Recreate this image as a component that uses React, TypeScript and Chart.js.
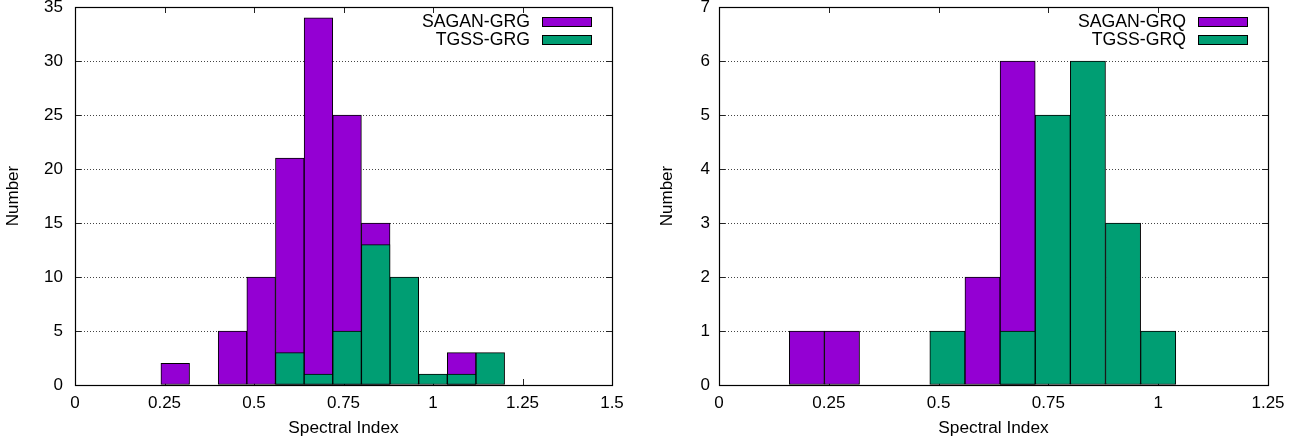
import React, { useEffect, useRef } from 'react';
import { Chart, registerables } from 'chart.js';

Chart.register(...registerables);

const PURPLE = '#9400D3';
const GREEN = '#009E73';
const FONT = '"Liberation Sans", Arial, sans-serif';

// Left panel: radio galaxies (bin centres, bin width 0.08)
const grgBins = [0.28, 0.44, 0.52, 0.6, 0.68, 0.76, 0.84, 0.92, 1.0, 1.08, 1.16];
const saganGrg = [2, 5, 10, 21, 34, 25, 15, null, null, 3, null];
const tgssGrg = [null, null, null, 3, 1, 5, 13, 10, 1, 1, 3];
const grgLabels = ['SAGAN-GRG', 'TGSS-GRG'];

// Right panel: radio quasars
const grqBins = [0.2, 0.28, 0.52, 0.6, 0.68, 0.76, 0.84, 0.92, 1.0];
const saganGrq = [1, 1, null, 2, 6, null, null, null, null];
const tgssGrq = [null, null, 1, null, 1, 5, 6, 3, 1];
const grqLabels = ['SAGAN-GRQ', 'TGSS-GRQ'];

const xTitle = 'Spectral Index';
const yTitle = 'Number';

type Props = {
  bins: number[];
  sagan: (number | null)[];
  tgss: (number | null)[];
  labels: string[];
  xMax: number;
  yMax: number;
  yStep: number;
  yWidth: number;
  padRight: number;
  tickPad: number;
  titlePad: number;
};

const toPoints = (bins: number[], vals: (number | null)[]) =>
  bins
    .map((x, i) => ({ x, y: vals[i] }))
    .filter((p) => p.y !== null && p.y !== undefined) as { x: number; y: number }[];

const framePlugin = {
  id: 'gnuframe',
  beforeDatasetsDraw(chart: any) {
    const { ctx, chartArea } = chart;
    const { left, right, top, bottom } = chartArea;
    const tl = 6;
    ctx.save();
    ctx.strokeStyle = '#222';
    ctx.lineWidth = 1;
    ctx.beginPath();
    const xs = chart.scales.x;
    xs.ticks.forEach((t: any) => {
      const px = Math.round(xs.getPixelForValue(t.value)) + 0.5;
      ctx.moveTo(px, bottom);
      ctx.lineTo(px, bottom - tl);
      ctx.moveTo(px, top);
      ctx.lineTo(px, top + tl);
    });
    const ys = chart.scales.y;
    ys.ticks.forEach((t: any) => {
      const py = Math.round(ys.getPixelForValue(t.value)) + 0.5;
      ctx.moveTo(left, py);
      ctx.lineTo(left + tl, py);
      ctx.moveTo(right, py);
      ctx.lineTo(right - tl, py);
    });
    ctx.stroke();
    ctx.restore();
  },
  afterDatasetsDraw(chart: any) {
    const { ctx, chartArea } = chart;
    const { left, right, top, bottom } = chartArea;
    ctx.save();
    ctx.strokeStyle = '#000';
    ctx.lineWidth = 1.2;
    ctx.strokeRect(Math.round(left) + 0.5, Math.round(top) + 0.5, Math.round(right - left), Math.round(bottom - top));
    // legend (gnuplot style: right-aligned text, sample box on the right)
    const labels: string[] = chart.options.plugins.gnuframe.labels;
    const colors = [PURPLE, GREEN];
    ctx.font = `17.7px ${FONT}`;
    ctx.textAlign = 'right';
    ctx.textBaseline = 'middle';
    ctx.lineWidth = 1;
    labels.forEach((lab, i) => {
      const cy = top + 14.7 + i * 18.5;
      ctx.fillStyle = '#000';
      ctx.fillText(lab, right - 82, cy);
      const bx = Math.round(right - 70) + 0.5;
      const by = Math.round(cy - 5) + 0.5;
      ctx.fillStyle = colors[i];
      ctx.fillRect(bx, by, 49, 9);
      ctx.strokeStyle = '#000';
      ctx.strokeRect(bx, by, 49, 9);
    });
    ctx.restore();
  },
};

function Hist(props: Props) {
  const ref = useRef<HTMLCanvasElement | null>(null);
  useEffect(() => {
    if (!ref.current) return;
    const chart = new Chart(ref.current, {
      type: 'bar',
      data: {
        datasets: [
          {
            label: props.labels[0],
            data: toPoints(props.bins, props.sagan),
            backgroundColor: PURPLE,
            borderColor: '#000',
            borderWidth: 1,
            borderSkipped: false,
            barPercentage: 1,
            categoryPercentage: 1,
            grouped: false,
            order: 1,
          } as any,
          {
            label: props.labels[1],
            data: toPoints(props.bins, props.tgss),
            backgroundColor: GREEN,
            borderColor: '#000',
            borderWidth: 1,
            borderSkipped: false,
            barPercentage: 1,
            categoryPercentage: 1,
            grouped: false,
            order: 0,
          } as any,
        ],
      },
      options: {
        animation: false,
        responsive: false,
        maintainAspectRatio: false,
        layout: { padding: { left: 0, top: 7, right: props.padRight, bottom: 0 } },
        plugins: {
          legend: { display: false },
          tooltip: { enabled: false },
          gnuframe: { labels: props.labels },
        } as any,
        scales: {
          x: {
            type: 'linear',
            min: 0,
            max: props.xMax,
            offset: false,
            grid: { display: false, drawTicks: false },
            border: { display: false },
            ticks: {
              stepSize: 0.25,
              padding: 7.8,
              color: '#000',
              font: { family: FONT, size: 17, lineHeight: 1.2 },
              maxRotation: 0,
              autoSkip: false,
              callback: (v: any) => String(Math.round(Number(v) * 100) / 100),
            },
            title: {
              display: true,
              text: xTitle,
              color: '#000',
              font: { family: FONT, size: 17.3, lineHeight: 1.2 },
              padding: { top: 0, bottom: 6.3 },
            },
            afterFit: (s: any) => {
              s.height = 60;
              s.paddingLeft = 0;
              s.paddingRight = 0;
            },
          } as any,
          y: {
            type: 'linear',
            min: 0,
            max: props.yMax,
            grid: { display: true, drawTicks: false, color: '#444', lineWidth: 1 },
            border: { display: false, dash: [1, 2] },
            ticks: {
              stepSize: props.yStep,
              padding: props.tickPad,
              color: '#000',
              font: { family: FONT, size: 17, lineHeight: 1.2 },
            },
            title: {
              display: true,
              text: yTitle,
              color: '#000',
              font: { family: FONT, size: 17, lineHeight: 1.2 },
              padding: { top: props.titlePad, bottom: 0 },
            },
            afterFit: (s: any) => {
              s.width = props.yWidth;
              s.paddingTop = 0;
              s.paddingBottom = 0;
            },
          } as any,
        },
      },
      plugins: [framePlugin as any],
    });
    return () => chart.destroy();
  }, []);
  return <canvas ref={ref} width={653} height={445} style={{ display: 'block', width: 653, height: 445 }} />;
}

export default function App() {
  return (
    <div style={{ position: 'fixed', left: 0, top: 0, width: 1306, height: 445, background: '#fff' }}>
      <div style={{ position: 'absolute', left: 0, top: 0 }}>
        <Hist bins={grgBins} sagan={saganGrg} tgss={tgssGrg} labels={grgLabels} xMax={1.5} yMax={35} yStep={5}
          yWidth={75} padRight={41} tickPad={12} titlePad={3.3} />
      </div>
      <div style={{ position: 'absolute', left: 653, top: 0 }}>
        <Hist bins={grqBins} sagan={saganGrq} tgss={tgssGrq} labels={grqLabels} xMax={1.25} yMax={7} yStep={1}
          yWidth={66} padRight={38} tickPad={9} titlePad={3.8} />
      </div>
    </div>
  );
}
